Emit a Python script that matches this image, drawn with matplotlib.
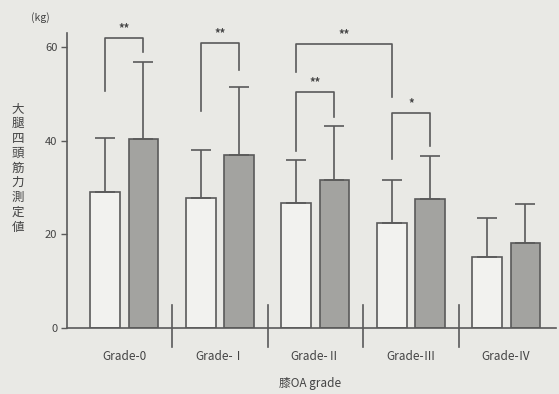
import matplotlib
matplotlib.use("Agg")
import matplotlib.pyplot as plt
import numpy as np

plt.rcParams['font.family'] = ['Noto Sans CJK JP', 'DejaVu Sans']

categories = ["Grade-0", "Grade-Ⅰ", "Grade-Ⅱ", "Grade-Ⅲ", "Grade-Ⅳ"]
white_means = [29.0, 27.8, 26.8, 22.5, 15.2]
white_err = [11.5, 10.3, 9.0, 9.2, 8.2]
gray_means = [40.3, 37.0, 31.7, 27.6, 18.2]
gray_err = [16.5, 14.5, 11.4, 9.1, 8.3]
y_ticks = [0, 20, 40, 60]
# brackets: (group_a, series_a, group_b, series_b, top, leg_a_bottom, leg_b_bottom, label)
brackets = [
    (0, 0, 0, 1, 61.9, 50.6, 58.9, "**"),
    (1, 0, 1, 1, 60.8, 46.3, 55.2, "**"),
    (2, 0, 2, 1, 50.4, 37.8, 45.0, "**"),
    (2, 0, 3, 0, 60.6, 54.6, 49.3, "**"),
    (3, 0, 3, 1, 46.0, 36.0, 38.8, "*"),
]

bg = "#e9e9e5"
lc = "#5a5a5a"
tc = "#444444"
fig = plt.figure(figsize=(5.59, 3.94), dpi=100, facecolor=bg)
ax = fig.add_axes([67/559, 66/394, (556-67)/559, (328-33)/394])
ax.set_facecolor(bg)

x = np.arange(len(categories))
off = 0.2
w = 0.31
ax.bar(x - off, white_means, w, color="#f2f2ef", edgecolor=lc, linewidth=1.2, zorder=2)
ax.bar(x + off, gray_means, w, color="#a3a3a0", edgecolor=lc, linewidth=1.2, zorder=2)
ax.errorbar(x - off, white_means, yerr=[np.zeros(len(x)), white_err], fmt="none",
            ecolor=lc, elinewidth=1.2, capsize=7.5, capthick=1.2, zorder=3)
ax.errorbar(x + off, gray_means, yerr=[np.zeros(len(x)), gray_err], fmt="none",
            ecolor=lc, elinewidth=1.2, capsize=7.5, capthick=1.2, zorder=3)

for ga, sa, gb, sb, top, la, lb, lab in brackets:
    xa = ga + (off if sa else -off)
    xb = gb + (off if sb else -off)
    ax.plot([xa, xa, xb, xb], [la, top, top, lb], color=lc, lw=1.2, zorder=3)
    ax.text((xa + xb) / 2, top + 0.6, lab, ha="center", va="bottom", fontsize=8,
            color=tc, fontweight="bold")

# group separators
for s in x[:-1] + 0.5:
    ax.plot([s, s], [4.9, -4.1], color=lc, lw=1.2, clip_on=False, zorder=3)

ax.set_xlim(-0.6, 4.52)
ax.set_ylim(0, 63)
ax.set_yticks(y_ticks)
ax.set_yticklabels([str(t) for t in y_ticks], fontsize=8, color=tc)
ax.set_xticks(x)
ax.set_xticklabels(categories, fontsize=8.5, color=tc)
ax.tick_params(axis="x", length=0, pad=16)
ax.tick_params(axis="y", length=4, color=lc, width=1, pad=3)
for sp in ["top", "right"]:
    ax.spines[sp].set_visible(False)
ax.spines["left"].set_color(lc)
ax.spines["bottom"].set_color(lc)
ax.spines["left"].set_linewidth(1.2)
ax.spines["bottom"].set_linewidth(1.2)

fig.text(40/559, 1 - 18/394, "(kg)", fontsize=7.5, color=tc, ha="center", va="center")
fig.text(18/559, 1 - 168/394, "\n".join("大腿四頭筋力測定値"), fontsize=9, color=tc,
         ha="center", va="center", linespacing=1.18)
fig.text(310/559, 1 - 384/394, "膝OA grade", fontsize=8.5, color=tc, ha="center", va="center")

fig.savefig("out.png", dpi=100, facecolor=bg)
